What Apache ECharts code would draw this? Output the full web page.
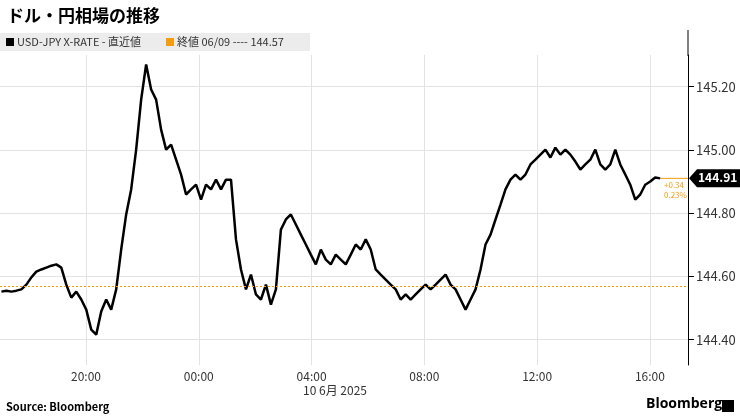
<!DOCTYPE html>
<html><head><meta charset="utf-8">
<script src="https://cdn.jsdelivr.net/npm/echarts@6/dist/echarts.min.js"></script>
<style>html,body{margin:0;padding:0;background:#fff}#c{width:740px;height:416px}</style>
</head><body><div id="c"></div>
<script>
// hours relative to 10 June 00:00
const startHour = -7;          // 17:00 on 9 June
const stepMinutes = 10.62;
const prices = [
144.552,144.555,144.552,144.555,144.559,144.574,144.597,144.615,144.622,144.628,144.634,144.638,144.628,144.574,144.533,144.552,144.527,144.495,144.432,144.416,
144.489,144.527,144.495,144.559,144.685,144.796,144.875,145.001,145.159,145.270,145.191,145.159,145.064,145.001,145.017,144.969,144.922,144.859,144.875,144.890,
144.843,144.890,144.875,144.906,144.875,144.906,144.906,144.717,144.622,144.559,144.606,144.543,144.527,144.574,144.511,144.559,144.748,144.780,144.796,144.764,
144.732,144.701,144.669,144.638,144.685,144.653,144.638,144.669,144.653,144.638,144.669,144.701,144.685,144.717,144.685,144.622,144.606,144.590,144.574,144.559,
144.527,144.543,144.527,144.543,144.559,144.574,144.559,144.574,144.590,144.606,144.574,144.559,144.527,144.495,144.527,144.559,144.622,144.701,144.732,144.780,
144.827,144.875,144.906,144.922,144.906,144.922,144.954,144.969,144.985,145.001,144.976,145.007,144.985,145.001,144.985,144.963,144.938,144.954,144.969,145.001,
144.954,144.938,144.954,145.001,144.954,144.922,144.890,144.843,144.859,144.890,144.900,144.913,144.910];
const prevClose = 144.57;
const lastValue = 144.91;
const yTicks = [144.4,144.6,144.8,145.0,145.2];
const xTicks = [-4,0,4,8,12,16];
const xTickLabels = {"-4":"20:00","0":"00:00","4":"04:00","8":"08:00","12":"12:00","16":"16:00"};

const data = prices.map((p,i)=>[startHour + i*stepMinutes/60, p]);
const chart = echarts.init(document.getElementById('c'));
const font = '"Noto Sans CJK JP","Open Sans",sans-serif';
chart.setOption({
  animation:false,
  textStyle:{fontFamily:font},
  title:{text:'ドル・円相場の推移',left:2,top:2,textStyle:{fontSize:17,fontWeight:'bold',color:'#000',fontFamily:font}},
  grid:{left:0,right:52,top:55,bottom:51},
  xAxis:{type:'value',min:-7.05,max:17.35,
    axisLine:{show:false},axisTick:{show:false,customValues:xTicks},
    axisLabel:{customValues:xTicks,color:'#333',fontSize:12,margin:5,formatter:v=>xTickLabels[String(v)]||''},
    splitLine:{show:true,lineStyle:{color:'#e3e3e3',width:1}}},
  yAxis:{type:'value',position:'right',min:144.32,max:145.3,
    axisLine:{show:true,onZero:false,lineStyle:{color:'#000',width:1}},
    axisTick:{show:true,inside:false,length:6,customValues:yTicks,lineStyle:{color:'#000'}},
    axisLabel:{customValues:yTicks,color:'#333',fontSize:13,margin:8,formatter:v=>v.toFixed(2)},
    splitLine:{show:true,lineStyle:{color:'#e3e3e3',width:1}}},
  series:[{type:'line',data:data,showSymbol:false,lineStyle:{color:'#000',width:2.5},
    markLine:{silent:true,symbol:'none',label:{show:false},
      lineStyle:{color:'#f39c12',type:[2,2],width:1},data:[{yAxis:prevClose}]}}]
});
const px = chart.convertToPixel({gridIndex:0},[data[data.length-1][0], lastValue]);
chart.setOption({graphic:[
  {type:'rect',shape:{x:0,y:33,width:310,height:18},style:{fill:'#ececec'}},
  {type:'rect',shape:{x:6,y:38,width:8,height:8},style:{fill:'#000'}},
  {type:'text',x:17,y:36,style:{text:'USD-JPY X-RATE - 直近値',fontSize:11,fill:'#333',fontFamily:font}},
  {type:'rect',shape:{x:166,y:38,width:8,height:8},style:{fill:'#f39c12'}},
  {type:'text',x:177,y:36,style:{text:'終値 06/09 ---- 144.57',fontSize:11,fill:'#333',fontFamily:font}},
  {type:'line',shape:{x1:px[0],y1:px[1],x2:688,y2:px[1]},style:{stroke:'#f39c12',lineWidth:1}},
  {type:'text',x:664,y:px[1]+2,style:{text:'+0.34\n0.23%',fontSize:8,fill:'#f39c12',lineHeight:10,fontFamily:font}},
  {type:'polygon',shape:{points:[[689,px[1]],[697,px[1]-9],[740,px[1]-9],[740,px[1]+9],[697,px[1]+9]]},style:{fill:'#000'}},
  {type:'text',x:698,y:px[1]-7,style:{text:lastValue.toFixed(2),fontSize:12,fontWeight:'bold',fill:'#fff',fontFamily:font}},
  {type:'line',shape:{x1:688,y1:30,x2:688,y2:56},style:{stroke:'#000',lineWidth:1}},
  {type:'text',x:335,y:384,style:{text:'10 6月 2025',fontSize:12,fill:'#333',textAlign:'center',fontFamily:font}},
  {type:'text',x:6,y:401,style:{text:'Source: Bloomberg',fontSize:11,fontWeight:'bold',fill:'#000',fontFamily:font}},
  {type:'text',x:646,y:397,style:{text:'Bloomberg',fontSize:14,fontWeight:'bold',fill:'#000',fontFamily:'"Open Sans",sans-serif'}},
  {type:'rect',shape:{x:722,y:400,width:12,height:12},style:{fill:'#000'}}
]});
</script></body></html>
